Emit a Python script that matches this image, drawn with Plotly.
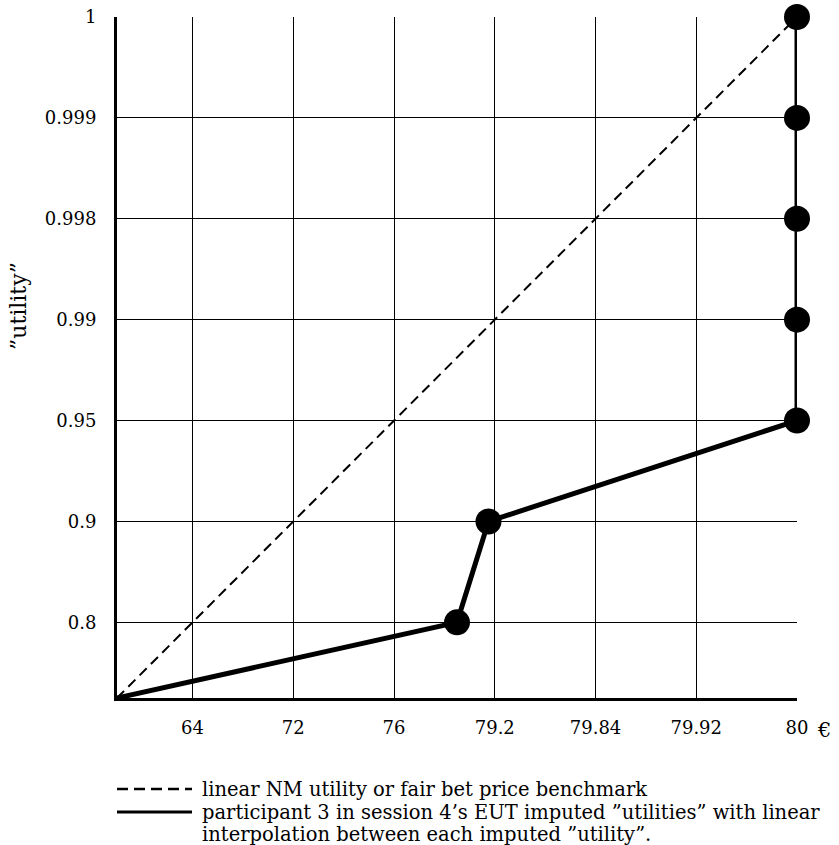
import numpy as np
import plotly.graph_objects as go

# ---- data ----
x_ticks = [64, 72, 76, 79.2, 79.84, 79.92, 80]
x_ticklabels = ["64", "72", "76", "79.2", "79.84", "79.92", "80"]
y_ticks = [0.8, 0.9, 0.95, 0.99, 0.998, 0.999, 1]
y_ticklabels = ["0.8", "0.9", "0.95", "0.99", "0.998", "0.999", "1"]

bench_x = [0, 64, 72, 76, 79.2, 79.84, 79.92, 80]
bench_y = [0, 0.8, 0.9, 0.95, 0.99, 0.998, 0.999, 1]

p3_x = [0, 78, 79, 80, 80, 80, 80, 80]
p3_y = [0, 0.8, 0.9, 0.95, 0.99, 0.998, 0.999, 1]
p3_has_marker = [False, True, True, True, True, True, True, True]

legend_labels = [
    "linear NM utility or fair bet price benchmark",
    "participant 3 in session 4\u2019s EUT imputed \u201dutilities\u201d with linear",
    "interpolation between each imputed \u201dutility\u201d.",
]

# ---- non-uniform scale: each tick equally spaced, origin 0.75 step before first tick ----
x_knots = [0] + x_ticks
y_knots = [0] + y_ticks
pos_knots = [-0.75] + list(range(len(x_ticks)))


def xs(v):
    return np.interp(v, x_knots, pos_knots)


def ys(v):
    return np.interp(v, y_knots, pos_knots)


FONT = "DejaVu Serif"
FS = 18
W, H = 839, 845
L, R, T, B = 117, 42, 17, 147
PW, PH = W - L - R, H - T - B


def px_x(p):
    return (p - L) / PW


def px_y(p):
    return (H - B - p) / PH


fig = go.Figure()

fig.add_trace(go.Scatter(
    x=xs(bench_x), y=ys(bench_y), mode="lines",
    line=dict(color="black", width=2, dash="10px,6px"),
    showlegend=False, hoverinfo="skip", cliponaxis=False,
))

fig.add_trace(go.Scatter(
    x=xs(p3_x), y=ys(p3_y), mode="lines+markers",
    line=dict(color="black", width=5),
    marker=dict(color="black", opacity=1,
                size=[26 if m else 0 for m in p3_has_marker], line=dict(width=0)),
    showlegend=False, cliponaxis=False,
))

positions = list(range(len(x_ticks)))
rng = [-0.75, len(x_ticks) - 1]

tick_axis = dict(
    range=rng, ticklen=7, tickwidth=3, tickcolor="black",
    showticklabels=False, showgrid=False, showline=False, zeroline=False,
    automargin=False, tickvals=positions[:-1],
)

fig.update_layout(
    width=W, height=H,
    margin=dict(l=L, r=R, t=T, b=B, autoexpand=False),
    paper_bgcolor="white", plot_bgcolor="white",
    font=dict(family=FONT, size=FS, color="black"),
    showlegend=False,
    xaxis=dict(
        range=rng, tickvals=positions, ticktext=x_ticklabels,
        showline=True, linecolor="black", linewidth=3,
        showgrid=True, gridcolor="black", gridwidth=1,
        zeroline=False, ticks="", ticklabelstandoff=11, automargin=False,
        tickfont=dict(family=FONT, size=FS),
    ),
    yaxis=dict(
        range=rng, tickvals=positions, ticktext=y_ticklabels,
        showline=True, linecolor="black", linewidth=3,
        showgrid=True, gridcolor="black", gridwidth=1,
        zeroline=False, ticks="", ticklabelstandoff=14, automargin=False,
        tickfont=dict(family=FONT, size=FS),
    ),
    xaxis2=dict(tick_axis, overlaying="x", anchor="y", side="bottom", ticks="outside"),
    xaxis3=dict(tick_axis, overlaying="x", anchor="y", side="bottom", ticks="inside"),
    yaxis2=dict(tick_axis, overlaying="y", anchor="x", side="left", ticks="outside"),
    yaxis3=dict(tick_axis, overlaying="y", anchor="x", side="left", ticks="inside"),
)

# y-axis title
fig.add_annotation(
    text="\u201dutility\u201d", xref="paper", yref="paper",
    x=px_x(18), y=px_y(306), xanchor="center", yanchor="middle",
    textangle=-90, showarrow=False, font=dict(family=FONT, size=22),
)

# euro sign after the last x tick label
fig.add_annotation(
    text="\u20ac", xref="paper", yref="paper",
    x=px_x(815), y=px_y(730), xanchor="left", yanchor="middle",
    showarrow=False, font=dict(family=FONT, size=21),
)

# manual legend
fig.add_shape(type="line", xref="paper", yref="paper",
              x0=px_x(117), x1=px_x(192), y0=px_y(789), y1=px_y(789),
              line=dict(color="black", width=2.5, dash="11px,6px"))
fig.add_shape(type="line", xref="paper", yref="paper",
              x0=px_x(117), x1=px_x(192), y0=px_y(812), y1=px_y(812),
              line=dict(color="black", width=3))
for label, ypix in zip(legend_labels, [789, 812, 834]):
    fig.add_annotation(
        text=label, xref="paper", yref="paper",
        x=px_x(200), y=px_y(ypix), xanchor="left", yanchor="middle",
        showarrow=False, font=dict(family=FONT, size=19.5),
    )

fig.write_html("out.html")
